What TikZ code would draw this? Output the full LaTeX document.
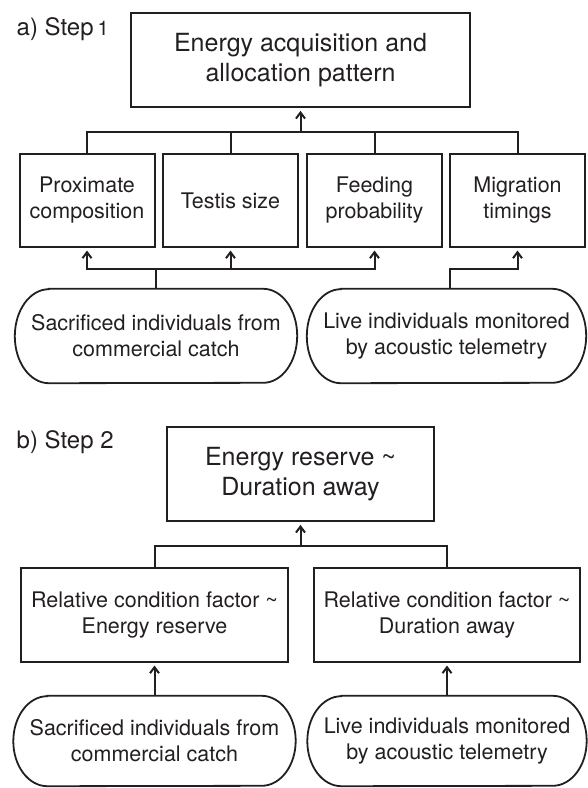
\documentclass[tikz,border=0pt]{standalone}
\usepackage{fontspec}
\setmainfont{TeX Gyre Heros}
\usetikzlibrary{arrows.meta}
\definecolor{ink}{HTML}{231F20}
\newcommand\fsmall{\fontsize{21.5}{26}\selectfont}
\newcommand\fbig{\fontsize{25}{29.5}\selectfont}
\newcommand\flabel{\fontsize{24}{28}\selectfont}
\newcommand\drawstad[3]{%
  \draw[stadline] ([xshift=#2]#1.north west) -- ([xshift=-#2]#1.north east)
    arc[start angle=90,end angle=-90,x radius=#2,y radius=#3]
    -- ([xshift=#2]#1.south west)
    arc[start angle=270,end angle=90,x radius=#2,y radius=#3] -- cycle;}
\tikzset{
  box/.style={draw=ink, line width=2pt, inner sep=0pt, align=center, font=\fsmall, text=ink},
  topbox/.style={box, line width=2.8pt, font=\fbig},
  stadtext/.style={inner sep=0pt, align=center, font=\fsmall, text=ink},
  stadline/.style={draw=ink, line width=1.8pt},
  conn/.style={draw=ink, line width=2pt},
  arr/.style={conn, -{Straight Barb[length=6pt,width=9pt,line width=2pt]}, shorten >=2.5pt},
  lab/.style={anchor=base west, inner sep=0pt, font=\flabel, text=ink}
}
\begin{document}
\begin{tikzpicture}[x=1pt,y=-1pt]
\useasboundingbox (0,0) rectangle (587,788);
% ---------- panel a ----------
\node[lab] (la) at (16.5,35) {a) Step\,{\fontsize{20}{22}\selectfont 1}};
\node[topbox, minimum width=339pt, minimum height=94pt] (t1) at (300.5,60) {Energy acquisition and\\allocation pattern};
\node[box, minimum width=135pt, minimum height=93pt] (b1) at (87,200.5) {Proximate\\composition};
\node[box, minimum width=135pt, minimum height=93pt] (b2) at (230.5,200.5) {Testis size};
\node[box, minimum width=135pt, minimum height=93pt] (b3) at (374.5,200.5) {Feeding\\probability};
\node[box, minimum width=135pt, minimum height=93pt] (b4) at (517.5,200.5) {Migration\\timings};
\node[stadtext, minimum width=282pt, minimum height=94pt] (s1) at (156,336) {Sacrificed individuals from\\commercial catch};
\node[stadtext, minimum width=279pt, minimum height=94pt] (s2) at (446.5,336) {Live individuals monitored\\by acoustic telemetry};
\drawstad{s1}{34pt}{47pt}
\drawstad{s2}{34pt}{47pt}
\coordinate (busA) at (300.5,132);
\coordinate (busB) at (0,269);
\coordinate (s2up) at (450,289);
\draw[conn] (b1.north) |- (b4.north |- busA) -- (b4.north);
\draw[conn] (b2.north) -- (b2.north |- busA);
\draw[conn] (b3.north) -- (b3.north |- busA);
\draw[arr] (busA) -- (t1.south);
\draw[arr] (s1.north) -- (s1.north |- busB) -| (b1.south);
\draw[arr] (s1.north |- busB) -| (b3.south);
\draw[arr] (b2.south |- busB) -- (b2.south);
\draw[arr] (s2up) |- (b4.south |- busB) -- (b4.south);
% ---------- panel b ----------
\node[lab] (lb) at (16.5,448) {b) Step 2};
\node[topbox, minimum width=267pt, minimum height=94pt] (t2) at (300.5,474) {Energy reserve \char`\~\\Duration away};
\node[box, minimum width=266.5pt, minimum height=94pt] (c1) at (154.5,615) {Relative condition factor \char`\~\\Energy reserve};
\node[box, minimum width=266pt, minimum height=94pt] (c2) at (447,615) {Relative condition factor \char`\~\\Duration away};
\node[stadtext, minimum width=282pt, minimum height=90pt] (s3) at (154.5,741) {Sacrificed individuals from\\commercial catch};
\node[stadtext, minimum width=279pt, minimum height=90pt] (s4) at (447,741) {Live individuals monitored\\by acoustic telemetry};
\drawstad{s3}{34pt}{45pt}
\drawstad{s4}{34pt}{45pt}
\coordinate (busC) at (0,546);
\draw[conn] (c1.north) |- (c2.north |- busC) -- (c2.north);
\draw[arr] (t2.south |- busC) -- (t2.south);
\draw[arr] (s3.north) -- (c1.south);
\draw[arr] (s4.north) -- (c2.south);
\end{tikzpicture}
\end{document}
